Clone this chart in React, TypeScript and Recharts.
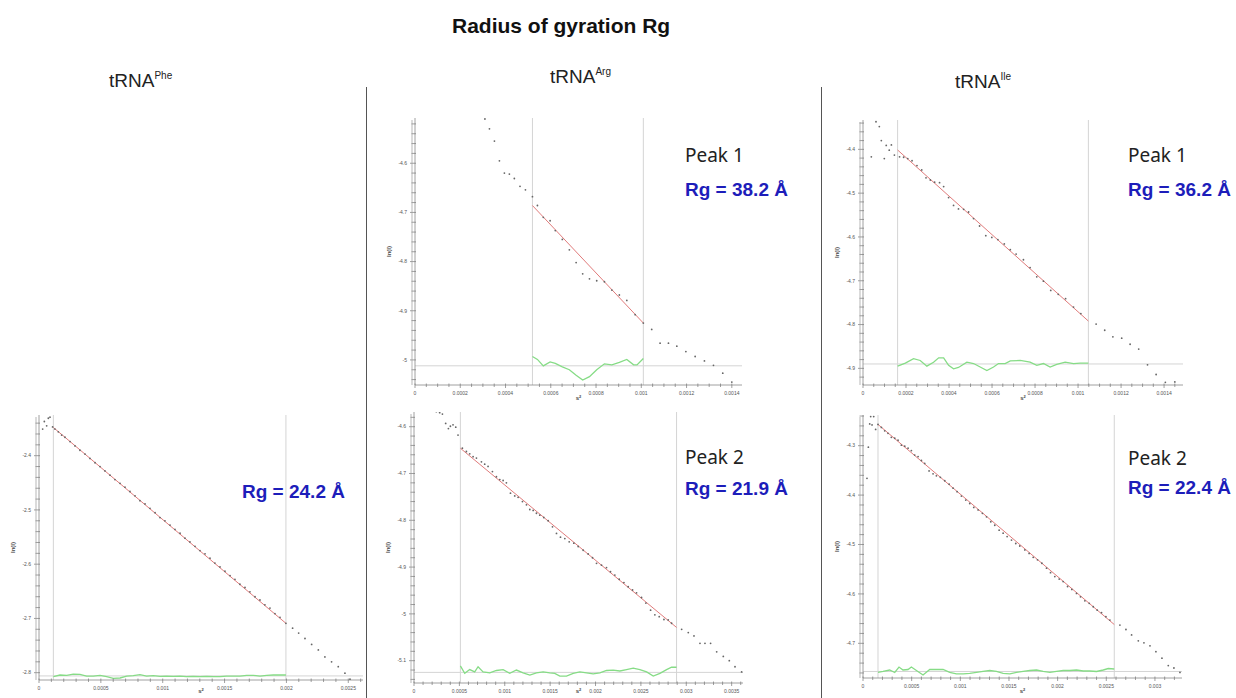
// Guinier plots (ln I vs s²) for three tRNAs, with the fitted range and residuals
import React from "react";
import { ScatterChart, Scatter, XAxis, YAxis, ReferenceLine } from "recharts";

type Pt = [number, number];

// ---- tRNA Phe (single peak) ----
const PHE_POINTS: Pt[] = [
  [0.0000296, -2.351], [0.0000431, -2.337], [0.000062, -2.345], [0.0000754, -2.331], [0.0000889, -2.329],
  [0.00011, -2.347], [0.000129, -2.351], [0.000156, -2.356], [0.000183, -2.362], [0.00021, -2.366],
  [0.000251, -2.374], [0.000291, -2.382], [0.000331, -2.39], [0.000372, -2.397], [0.000412, -2.405],
  [0.000453, -2.413], [0.000493, -2.42], [0.000533, -2.428], [0.000574, -2.436], [0.000614, -2.444],
  [0.000655, -2.451], [0.000695, -2.458], [0.000735, -2.466], [0.000776, -2.474], [0.000816, -2.483],
  [0.000857, -2.489], [0.000897, -2.497], [0.000938, -2.505], [0.000978, -2.514], [0.001018, -2.52],
  [0.001059, -2.528], [0.001099, -2.536], [0.00114, -2.543], [0.00118, -2.552], [0.00122, -2.559],
  [0.001261, -2.567], [0.001301, -2.575], [0.001342, -2.581], [0.001382, -2.589], [0.001422, -2.598],
  [0.001463, -2.605], [0.001503, -2.613], [0.001544, -2.621], [0.001584, -2.628], [0.001624, -2.637],
  [0.001665, -2.643], [0.001705, -2.651], [0.001746, -2.66], [0.001786, -2.666], [0.001826, -2.675],
  [0.001867, -2.681], [0.001907, -2.691], [0.001948, -2.698], [0.001996, -2.709], [0.00205, -2.718],
  [0.002099, -2.727], [0.00215, -2.737], [0.002204, -2.748], [0.002258, -2.758], [0.002311, -2.771],
  [0.002365, -2.78], [0.002419, -2.789], [0.002473, -2.801], [0.002514, -2.812],
];
const PHE_FIT: Pt[] = [[0.000116, -2.348], [0.001996, -2.709]];
const PHE_RESID: Pt[] = [
  [0.000116, -2.8074], [0.00017, -2.8043], [0.000224, -2.8049], [0.000277, -2.8025], [0.000331, -2.8031],
  [0.000385, -2.8062], [0.000439, -2.8062], [0.000493, -2.8049], [0.000547, -2.8074], [0.000601, -2.8105],
  [0.000655, -2.8098], [0.000709, -2.8062], [0.000762, -2.8055], [0.000816, -2.8037], [0.00087, -2.8062],
  [0.000924, -2.8055], [0.000978, -2.8068], [0.001032, -2.8062], [0.001086, -2.8068], [0.00114, -2.8062],
  [0.001193, -2.8074], [0.001247, -2.8068], [0.001301, -2.8074], [0.001355, -2.8068], [0.001409, -2.8074],
  [0.001463, -2.8074], [0.001517, -2.8062], [0.001571, -2.8062], [0.001624, -2.8062], [0.001678, -2.8049],
  [0.001732, -2.8049], [0.001786, -2.8062], [0.00184, -2.8049], [0.001894, -2.8043], [0.001948, -2.8043],
  [0.001996, -2.8043],
];
const PHE_CUTS = [0.000116, 0.001996];
const PHE_BASE = -2.806;
const PHE_X_LABELS = ["0", "0.0005", "0.001", "0.0015", "0.002", "0.0025"];
const PHE_Y_LABELS = ["-2.8", "-2.7", "-2.6", "-2.5", "-2.4"];

// ---- tRNA Arg, peak 1 ----
const ARG1_POINTS: Pt[] = [
  [0.000309, -4.51], [0.000329, -4.53], [0.000351, -4.555], [0.000373, -4.595], [0.000395, -4.62],
  [0.000417, -4.622], [0.000439, -4.631], [0.000464, -4.647], [0.000488, -4.654], [0.000519, -4.668],
  [0.000541, -4.686], [0.000567, -4.71], [0.000597, -4.717], [0.00062, -4.737], [0.000651, -4.755],
  [0.000682, -4.776], [0.000712, -4.802], [0.000741, -4.825], [0.000771, -4.835], [0.000803, -4.839],
  [0.000837, -4.841], [0.00087, -4.858], [0.000903, -4.868], [0.000936, -4.879], [0.000973, -4.908],
  [0.001009, -4.925], [0.001046, -4.938], [0.001083, -4.966], [0.00112, -4.966], [0.001157, -4.972],
  [0.001197, -4.983], [0.001238, -4.993], [0.001279, -5.002], [0.001319, -5.011], [0.00136, -5.027],
  [0.0014, -5.045],
];
const ARG1_FIT: Pt[] = [[0.000519, -4.686], [0.001009, -4.925]];
const ARG1_RESID: Pt[] = [
  [0.000519, -4.993], [0.000541, -4.999], [0.000567, -5.012], [0.000597, -5.004], [0.00062, -5.007],
  [0.000651, -5.014], [0.000682, -5.02], [0.000712, -5.031], [0.000741, -5.041], [0.000771, -5.034],
  [0.000803, -5.02], [0.000837, -5.008], [0.00087, -5.01], [0.000903, -5.005], [0.000936, -4.999],
  [0.000966, -5.01], [0.000981, -5.01], [0.001009, -4.997],
];
const ARG1_CUTS = [0.000519, 0.001009];
const ARG1_BASE = -5.012;
const ARG1_X_LABELS = ["0", "0.0002", "0.0004", "0.0006", "0.0008", "0.001", "0.0012", "0.0014"];
const ARG1_Y_LABELS = ["-5", "-4.9", "-4.8", "-4.7", "-4.6"];

// ---- tRNA Ile, peak 1 ----
const ILE1_POINTS: Pt[] = [
  [0.0000387, -4.417], [0.0000604, -4.337], [0.0000759, -4.348], [0.0000852, -4.38], [0.0000991, -4.421],
  [0.000108, -4.391], [0.000122, -4.402], [0.000132, -4.39], [0.000146, -4.413], [0.00017, -4.417],
  [0.000189, -4.418], [0.000208, -4.421], [0.000228, -4.426], [0.000251, -4.437], [0.000273, -4.447],
  [0.000293, -4.465], [0.000313, -4.47], [0.000333, -4.475], [0.000356, -4.476], [0.000375, -4.485],
  [0.000398, -4.51], [0.000421, -4.528], [0.000444, -4.536], [0.000468, -4.537], [0.000491, -4.543],
  [0.000514, -4.558], [0.000542, -4.575], [0.000571, -4.597], [0.000599, -4.601], [0.000627, -4.606],
  [0.000657, -4.616], [0.000685, -4.629], [0.000712, -4.639], [0.000746, -4.652], [0.000777, -4.67],
  [0.000808, -4.691], [0.000839, -4.701], [0.000873, -4.722], [0.000908, -4.731], [0.000942, -4.741],
  [0.000979, -4.76], [0.001013, -4.775], [0.001084, -4.799], [0.001124, -4.813], [0.001162, -4.828],
  [0.001203, -4.831], [0.001242, -4.845], [0.001282, -4.856], [0.001323, -4.892], [0.001363, -4.914],
  [0.001406, -4.932], [0.00145, -4.931],
];
const ILE1_FIT: Pt[] = [[0.000161, -4.4015], [0.001048, -4.792]];
const ILE1_RESID: Pt[] = [
  [0.000161, -4.895], [0.000197, -4.888], [0.000235, -4.878], [0.000266, -4.882], [0.000297, -4.895],
  [0.000328, -4.886], [0.000352, -4.876], [0.000375, -4.876], [0.000398, -4.893], [0.000421, -4.901],
  [0.000444, -4.898], [0.000483, -4.886], [0.000514, -4.889], [0.000545, -4.897], [0.000576, -4.905],
  [0.000607, -4.897], [0.00063, -4.889], [0.000661, -4.889], [0.000685, -4.883], [0.000731, -4.882],
  [0.000777, -4.886], [0.000808, -4.893], [0.000839, -4.889], [0.00087, -4.897], [0.000901, -4.891],
  [0.00094, -4.886], [0.000979, -4.889], [0.00101, -4.888], [0.001048, -4.888],
];
const ILE1_CUTS = [0.000161, 0.001048];
const ILE1_BASE = -4.89;
const ILE1_X_LABELS = ["0", "0.0002", "0.0004", "0.0006", "0.0008", "0.001", "0.0012", "0.0014"];
const ILE1_Y_LABELS = ["-4.9", "-4.8", "-4.7", "-4.6", "-4.5", "-4.4"];

// ---- tRNA Arg, peak 2 ----
const ARG2_POINTS: Pt[] = [
  [0.000246, -4.568], [0.000283, -4.57], [0.000313, -4.573], [0.000349, -4.593], [0.000379, -4.604],
  [0.000401, -4.599], [0.00043, -4.596], [0.00046, -4.601], [0.000485, -4.618], [0.000533, -4.646],
  [0.000577, -4.653], [0.000614, -4.658], [0.000651, -4.664], [0.000688, -4.667], [0.000743, -4.675],
  [0.000779, -4.68], [0.000816, -4.685], [0.000864, -4.696], [0.000908, -4.707], [0.000945, -4.713],
  [0.000982, -4.715], [0.001018, -4.72], [0.001063, -4.742], [0.00111, -4.748], [0.001147, -4.751],
  [0.001195, -4.76], [0.001239, -4.767], [0.001276, -4.777], [0.001313, -4.779], [0.001349, -4.785],
  [0.001386, -4.789], [0.00143, -4.794], [0.001478, -4.801], [0.001526, -4.814], [0.00157, -4.828],
  [0.001614, -4.836], [0.001662, -4.839], [0.00171, -4.846], [0.001761, -4.849], [0.001809, -4.856],
  [0.001864, -4.864], [0.001919, -4.872], [0.001967, -4.88], [0.002011, -4.892], [0.002066, -4.896],
  [0.002121, -4.901], [0.002165, -4.91], [0.002213, -4.917], [0.002261, -4.926], [0.002313, -4.933],
  [0.00236, -4.942], [0.002408, -4.949], [0.002452, -4.955], [0.002507, -4.965], [0.002555, -4.977],
  [0.002607, -4.992], [0.002654, -5.002], [0.002702, -5.006], [0.002754, -5.012], [0.002801, -5.013],
  [0.002838, -5.02], [0.002949, -5.033], [0.003022, -5.04], [0.003085, -5.047], [0.003151, -5.063],
  [0.003206, -5.063], [0.003268, -5.063], [0.003335, -5.081], [0.003408, -5.091], [0.003474, -5.1],
  [0.003537, -5.113], [0.00361, -5.124],
];
const ARG2_FIT: Pt[] = [[0.000511, -4.646], [0.002893, -5.029]];
const ARG2_RESID: Pt[] = [
  [0.000511, -5.111], [0.000559, -5.127], [0.000614, -5.119], [0.000669, -5.124], [0.000706, -5.113],
  [0.000761, -5.124], [0.000835, -5.126], [0.000908, -5.121], [0.000982, -5.119], [0.001055, -5.127],
  [0.001129, -5.12], [0.001202, -5.126], [0.001276, -5.131], [0.001349, -5.126], [0.001423, -5.124],
  [0.001496, -5.126], [0.001551, -5.127], [0.001607, -5.133], [0.00168, -5.133], [0.001754, -5.127],
  [0.001827, -5.124], [0.001901, -5.126], [0.001974, -5.128], [0.002048, -5.126], [0.002121, -5.121],
  [0.002195, -5.12], [0.002268, -5.122], [0.002342, -5.119], [0.002415, -5.116], [0.002489, -5.119],
  [0.002563, -5.124], [0.002636, -5.133], [0.00271, -5.127], [0.002783, -5.119], [0.002838, -5.114],
  [0.002893, -5.114],
];
const ARG2_CUTS = [0.000511, 0.002893];
const ARG2_BASE = -5.125;
const ARG2_X_LABELS = ["0", "0.0005", "0.001", "0.0015", "0.002", "0.0025", "0.003", "0.0035"];
const ARG2_Y_LABELS = ["-5.1", "-5", "-4.9", "-4.8", "-4.7", "-4.6"];

// ---- tRNA Ile, peak 2 ----
const ILE2_POINTS: Pt[] = [
  [0.000041, -4.366], [0.000055, -4.303], [0.000069, -4.256], [0.000079, -4.241], [0.000093, -4.258],
  [0.00011, -4.241], [0.00013, -4.267], [0.000154, -4.257], [0.000189, -4.263], [0.000223, -4.27],
  [0.000257, -4.275], [0.000291, -4.283], [0.000326, -4.285], [0.00036, -4.289], [0.000394, -4.299],
  [0.000429, -4.301], [0.000463, -4.305], [0.000497, -4.31], [0.000531, -4.319], [0.000566, -4.322],
  [0.0006, -4.33], [0.000634, -4.336], [0.000679, -4.351], [0.00072, -4.357], [0.000754, -4.361],
  [0.000795, -4.364], [0.00084, -4.371], [0.000885, -4.378], [0.000926, -4.386], [0.000967, -4.393],
  [0.001011, -4.402], [0.001056, -4.41], [0.001097, -4.417], [0.001138, -4.425], [0.001183, -4.43],
  [0.001227, -4.437], [0.001269, -4.444], [0.001313, -4.454], [0.001354, -4.461], [0.001399, -4.471],
  [0.00144, -4.477], [0.001481, -4.484], [0.001526, -4.491], [0.00157, -4.498], [0.001611, -4.503],
  [0.001663, -4.511], [0.001707, -4.518], [0.001749, -4.526], [0.001793, -4.531], [0.001838, -4.538],
  [0.001886, -4.548], [0.001927, -4.557], [0.001971, -4.565], [0.002016, -4.57], [0.002057, -4.575],
  [0.002102, -4.585], [0.002146, -4.591], [0.002194, -4.599], [0.002235, -4.606], [0.00228, -4.614],
  [0.002325, -4.619], [0.002366, -4.626], [0.002407, -4.633], [0.002451, -4.638], [0.002496, -4.646],
  [0.002537, -4.653], [0.00264, -4.663], [0.002702, -4.672], [0.00276, -4.683], [0.002829, -4.695],
  [0.002887, -4.699], [0.002949, -4.705], [0.00301, -4.717], [0.003072, -4.73], [0.003137, -4.745],
  [0.003195, -4.75], [0.003257, -4.759],
];
const ILE2_FIT: Pt[] = [[0.000154, -4.257], [0.002582, -4.662]];
const ILE2_RESID: Pt[] = [
  [0.000154, -4.759], [0.000206, -4.757], [0.000274, -4.754], [0.000326, -4.759], [0.00037, -4.748],
  [0.000411, -4.754], [0.000463, -4.753], [0.000497, -4.748], [0.000549, -4.755], [0.000617, -4.764],
  [0.000686, -4.753], [0.000754, -4.753], [0.000823, -4.753], [0.000891, -4.759], [0.00096, -4.762],
  [0.001029, -4.762], [0.001097, -4.761], [0.001166, -4.759], [0.001234, -4.757], [0.001303, -4.755],
  [0.001371, -4.757], [0.00144, -4.761], [0.001509, -4.762], [0.001577, -4.759], [0.001646, -4.757],
  [0.001714, -4.755], [0.001783, -4.754], [0.001851, -4.757], [0.00192, -4.759], [0.001989, -4.757],
  [0.002057, -4.755], [0.002126, -4.755], [0.002194, -4.754], [0.002263, -4.756], [0.002331, -4.756],
  [0.0024, -4.757], [0.002469, -4.754], [0.00252, -4.751], [0.002582, -4.752],
];
const ILE2_CUTS = [0.000154, 0.002582];
const ILE2_BASE = -4.757;
const ILE2_X_LABELS = ["0", "0.0005", "0.001", "0.0015", "0.002", "0.0025", "0.003"];
const ILE2_Y_LABELS = ["-4.7", "-4.6", "-4.5", "-4.4", "-4.3"];

const YW = 30; // y axis strip
const XH = 22; // x axis strip

const rows = (pts: Pt[]) => pts.map(([s2, lnI]) => ({ s2, lnI }));

// minor tick positions between the labelled ones
const minorTicks = (from: number, to: number, step: number) => {
  const out: number[] = [];
  const n = Math.round((to - from) / step);
  for (let i = 0; i <= n; i++) out.push(+(from + i * step).toFixed(7));
  return out;
};

const isMajor = (v: number, majors: number[]) => majors.some((m) => Math.abs(m - v) < 1e-9);

const XTick = (props: any) => {
  const { x, y, payload, labels } = props;
  const majors = labels.map(Number);
  const idx = majors.findIndex((m: number) => Math.abs(m - payload.value) < 1e-9);
  const major = idx >= 0;
  return (
    <g>
      <line x1={x} x2={x} y1={y - 1.5} y2={y + (major ? 3 : 2)} stroke="#777" strokeWidth={0.7} />
      {major && (
        <text x={x} y={y + 10} textAnchor="middle" fontSize={5} fill="#555" fontFamily="Liberation Sans, Arial">
          {labels[idx]}
        </text>
      )}
    </g>
  );
};

const YTick = (props: any) => {
  const { x, y, payload, labels } = props;
  const majors = labels.map(Number);
  const idx = majors.findIndex((m: number) => Math.abs(m - payload.value) < 1e-9);
  const major = idx >= 0;
  return (
    <g>
      <line x1={x - (major ? 5 : 3.5)} x2={x + 1} y1={y} y2={y} stroke="#777" strokeWidth={0.7} />
      {major && (
        <text x={x - 8} y={y + 1.8} textAnchor="end" fontSize={5} fill="#555" fontFamily="Liberation Sans, Arial">
          {labels[idx]}
        </text>
      )}
    </g>
  );
};

interface PanelSpec {
  left: number;
  top: number;
  right: number;
  bottom: number;
  xDomain: [number, number];
  yDomain: [number, number];
  xLabels: string[];
  yLabels: string[];
  xMinor: number;
  yMinor: number;
  points: Pt[];
  fit: Pt[];
  resid: Pt[];
  cuts: number[];
  base: number;
}

const GuinierPanel = ({ p }: { p: PanelSpec }) => {
  const xMaj = p.xLabels.map(Number);
  const yMaj = p.yLabels.map(Number);
  const xTicks = minorTicks(0, p.xDomain[1] - 1e-9, p.xMinor).filter((v) => v <= p.xDomain[1]);
  const yStart = Math.ceil(p.yDomain[0] / p.yMinor - 1e-6) * p.yMinor;
  const yTicks = minorTicks(yStart, p.yDomain[1], p.yMinor).filter((v) => v >= p.yDomain[0] && v <= p.yDomain[1]);
  xMaj.forEach((m) => { if (!isMajor(m, xTicks)) xTicks.push(m); });
  yMaj.forEach((m) => { if (!isMajor(m, yTicks)) yTicks.push(m); });
  xTicks.sort((a, b) => a - b);
  yTicks.sort((a, b) => a - b);

  return (
    <div style={{ position: "absolute", left: p.left - YW, top: p.top }}>
      <ScatterChart
        width={p.right - p.left + YW}
        height={p.bottom - p.top + XH}
        margin={{ top: 0, right: 0, bottom: 0, left: 0 }}
      >
        <XAxis
          type="number"
          dataKey="s2"
          domain={p.xDomain}
          allowDataOverflow
          ticks={xTicks}
          interval={0}
          height={XH}
          tickSize={0}
          tickMargin={0}
          tickLine={false}
          axisLine={{ stroke: "#888", strokeWidth: 0.8 }}
          tick={(props: any) => <XTick {...props} labels={p.xLabels} />}
        />
        <YAxis
          type="number"
          dataKey="lnI"
          domain={p.yDomain}
          allowDataOverflow
          ticks={yTicks}
          interval={0}
          width={YW}
          tickSize={0}
          tickMargin={0}
          tickLine={false}
          axisLine={{ stroke: "#888", strokeWidth: 0.8 }}
          tick={(props: any) => <YTick {...props} labels={p.yLabels} />}
        />
        {p.cuts.map((c) => (
          <ReferenceLine key={c} x={c} stroke="#d4d4d4" strokeWidth={1} />
        ))}
        <ReferenceLine y={p.base} stroke="#d4d4d4" strokeWidth={1} />
        <Scatter
          data={rows(p.resid)}
          isAnimationActive={false}
          line={{ stroke: "#86dc86", strokeWidth: 1.3 }}
          lineType="joint"
          shape={() => <g />}
        />
        <Scatter
          data={rows(p.fit)}
          isAnimationActive={false}
          line={{ stroke: "#e07b7b", strokeWidth: 1 }}
          lineType="joint"
          shape={() => <g />}
        />
        <Scatter
          data={rows(p.points)}
          isAnimationActive={false}
          shape={(s: any) => <circle cx={s.cx} cy={s.cy} r={0.9} fill="#666" />}
        />
      </ScatterChart>
    </div>
  );
};

const PANELS: PanelSpec[] = [
  {
    left: 39, top: 415, right: 363, bottom: 680,
    xDomain: [0, 0.002619], yDomain: [-2.8135, -2.325],
    xLabels: PHE_X_LABELS, yLabels: PHE_Y_LABELS, xMinor: 0.0001, yMinor: 0.02,
    points: PHE_POINTS, fit: PHE_FIT, resid: PHE_RESID, cuts: PHE_CUTS, base: PHE_BASE,
  },
  {
    left: 415, top: 118, right: 742, bottom: 385,
    xDomain: [0, 0.001445], yDomain: [-5.051, -4.508],
    xLabels: ARG1_X_LABELS, yLabels: ARG1_Y_LABELS, xMinor: 0.00005, yMinor: 0.02,
    points: ARG1_POINTS, fit: ARG1_FIT, resid: ARG1_RESID, cuts: ARG1_CUTS, base: ARG1_BASE,
  },
  {
    left: 863, top: 120, right: 1183, bottom: 385,
    xDomain: [0, 0.001488], yDomain: [-4.938, -4.333],
    xLabels: ILE1_X_LABELS, yLabels: ILE1_Y_LABELS, xMinor: 0.00005, yMinor: 0.02,
    points: ILE1_POINTS, fit: ILE1_FIT, resid: ILE1_RESID, cuts: ILE1_CUTS, base: ILE1_BASE,
  },
  {
    left: 414, top: 412, right: 743, bottom: 683,
    xDomain: [0, 0.003625], yDomain: [-5.1477, -4.5686],
    xLabels: ARG2_X_LABELS, yLabels: ARG2_Y_LABELS, xMinor: 0.0001, yMinor: 0.02,
    points: ARG2_POINTS, fit: ARG2_FIT, resid: ARG2_RESID, cuts: ARG2_CUTS, base: ARG2_BASE,
  },
  {
    left: 863, top: 415, right: 1182, bottom: 678,
    xDomain: [0, 0.003278], yDomain: [-4.7702, -4.2379],
    xLabels: ILE2_X_LABELS, yLabels: ILE2_Y_LABELS, xMinor: 0.0001, yMinor: 0.02,
    points: ILE2_POINTS, fit: ILE2_FIT, resid: ILE2_RESID, cuts: ILE2_CUTS, base: ILE2_BASE,
  },
];

const SANS = "Liberation Sans, Arial, sans-serif";
const BLUE = "#1d1dba";

const Overlay = () => (
  <svg width={1236} height={698} style={{ position: "absolute", left: 0, top: 0, pointerEvents: "none" }}>
    <text x={452} y={33} fontSize={21} fontWeight="bold" fontFamily={SANS} fill="#111">
      Radius of gyration Rg
    </text>

    <text x={109} y={87} fontSize={19} fontFamily={SANS} fill="#222">
      tRNA<tspan dy={-8} fontSize={10}>Phe</tspan>
    </text>
    <text x={550} y={83} fontSize={19} fontFamily={SANS} fill="#222">
      tRNA<tspan dy={-8} fontSize={10}>Arg</tspan>
    </text>
    <text x={955} y={88} fontSize={19} fontFamily={SANS} fill="#222">
      tRNA<tspan dy={-8} fontSize={10}>Ile</tspan>
    </text>

    <line x1={366.5} x2={366.5} y1={87} y2={698} stroke="#555" strokeWidth={1} />
    <line x1={821.5} x2={821.5} y1={87} y2={698} stroke="#555" strokeWidth={1} />

    {PANELS.map((p, i) => (
      <g key={i}>
        {/* second rule just left of the y axis, as in the source plots */}
        <line x1={p.left - 3} x2={p.left - 3} y1={p.top + 2} y2={p.bottom} stroke="#999" strokeWidth={0.7} />
        <text
          x={p.left - 24}
          y={(p.top + p.bottom) / 2}
          transform={`rotate(-90 ${p.left - 24} ${(p.top + p.bottom) / 2})`}
          textAnchor="middle"
          fontSize={6}
          fontWeight="bold"
          fontFamily={SANS}
          fill="#444"
        >
          ln(I)
        </text>
        <text
          x={(p.left + p.right) / 2}
          y={Math.min(p.bottom + 15, 693)}
          textAnchor="middle"
          fontSize={6}
          fontWeight="bold"
          fontFamily={SANS}
          fill="#444"
        >
          s<tspan dy={-2.5} fontSize={4}>2</tspan>
        </text>
      </g>
    ))}

    <text x={685} y={162} fontSize={19} fontFamily="Noto Sans, sans-serif" fill="#222">Peak 1</text>
    <text x={685} y={196} fontSize={19} fontWeight="bold" fontFamily={SANS} fill={BLUE}>Rg = 38.2 Å</text>

    <text x={1128} y={162} fontSize={19} fontFamily="Noto Sans, sans-serif" fill="#222">Peak 1</text>
    <text x={1128} y={196} fontSize={19} fontWeight="bold" fontFamily={SANS} fill={BLUE}>Rg = 36.2 Å</text>

    <text x={685} y={464} fontSize={19} fontFamily="Noto Sans, sans-serif" fill="#222">Peak 2</text>
    <text x={685} y={495} fontSize={19} fontWeight="bold" fontFamily={SANS} fill={BLUE}>Rg = 21.9 Å</text>

    <text x={1128} y={465} fontSize={19} fontFamily="Noto Sans, sans-serif" fill="#222">Peak 2</text>
    <text x={1128} y={494} fontSize={19} fontWeight="bold" fontFamily={SANS} fill={BLUE}>Rg = 22.4 Å</text>

    <text x={242} y={498} fontSize={19} fontWeight="bold" fontFamily={SANS} fill={BLUE}>Rg = 24.2 Å</text>
  </svg>
);

export default function App() {
  return (
    <div style={{ position: "absolute", left: 0, top: 0, width: 1236, height: 698, background: "#fff", overflow: "hidden" }}>
      {PANELS.map((p, i) => (
        <GuinierPanel key={i} p={p} />
      ))}
      <Overlay />
    </div>
  );
}
